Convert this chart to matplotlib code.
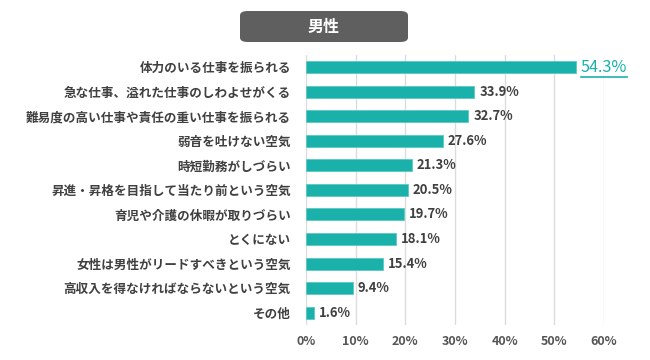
import matplotlib
matplotlib.use("Agg")
import matplotlib.pyplot as plt
from matplotlib.patches import FancyBboxPatch
from matplotlib.lines import Line2D

plt.rcParams['font.family'] = ['Noto Sans CJK JP', 'DejaVu Sans']

labels = ["体力のいる仕事を振られる",
          "急な仕事、溢れた仕事のしわよせがくる",
          "難易度の高い仕事や責任の重い仕事を振られる",
          "弱音を吐けない空気",
          "時短勤務がしづらい",
          "昇進・昇格を目指して当たり前という空気",
          "育児や介護の休暇が取りづらい",
          "とくにない",
          "女性は男性がリードすべきという空気",
          "高収入を得なければならないという空気",
          "その他"]
values = [54.3, 33.9, 32.7, 27.6, 21.3, 20.5, 19.7, 18.1, 15.4, 9.4, 1.6]
xticks = [0, 10, 20, 30, 40, 50, 60]
title = "男性"

teal = "#1ab1ab"
txt = "#404040"

fig = plt.figure(figsize=(6.5, 3.6), dpi=100)
ax = fig.add_axes([0.471, 0.097, 0.458, 0.751])

y = list(range(len(values)))
ax.barh(y, values, height=0.49, color=teal, edgecolor="#5cc9c4", linewidth=0.6, zorder=3)
ax.set_ylim(len(values) - 0.5, -0.5)
ax.set_xlim(0, 60)
ax.set_xticks(xticks)
ax.set_xticklabels([f"{t}%" for t in xticks], color="#555555", fontsize=9, fontweight="bold")
ax.set_yticks(y)
ax.set_yticklabels(labels, color=txt, fontsize=9.05, fontweight="bold")
ax.tick_params(axis="both", length=0)
ax.tick_params(axis="y", pad=11)
ax.tick_params(axis="x", pad=7)
ax.grid(axis="x", color="#dcdcdc", linewidth=1, zorder=0)
for s in ax.spines.values():
    s.set_visible(False)

for i, v in enumerate(values):
    if i == 0:
        t = ax.text(v + 1.0, i, f"{v}%", va="center", ha="left", color=teal, fontsize=11.7)
        top_label = t
    else:
        ax.text(v + 1.0, i, f"{v}%", va="center", ha="left", color=txt, fontsize=9.4, fontweight="bold")

# underline the top value
fig.canvas.draw()
bb = top_label.get_window_extent()
W, H = fig.get_size_inches() * fig.dpi
yl = (bb.y0 - 1) / H
fig.add_artist(Line2D([bb.x0 / W, bb.x1 / W], [yl, yl], color=teal, linewidth=1.2))

# title box
box = FancyBboxPatch((240 / 650, 1 - 42 / 360), 168 / 650, 31 / 360,
                     boxstyle="round,pad=0,rounding_size=0.012",
                     transform=fig.transFigure, facecolor="#5f5f5f", edgecolor="none")
fig.add_artist(box)
fig.text(324 / 650, 1 - 26.5 / 360, title, ha="center", va="center", color="white",
         fontsize=11.5, fontweight="bold")

fig.savefig("out.png", dpi=100)
